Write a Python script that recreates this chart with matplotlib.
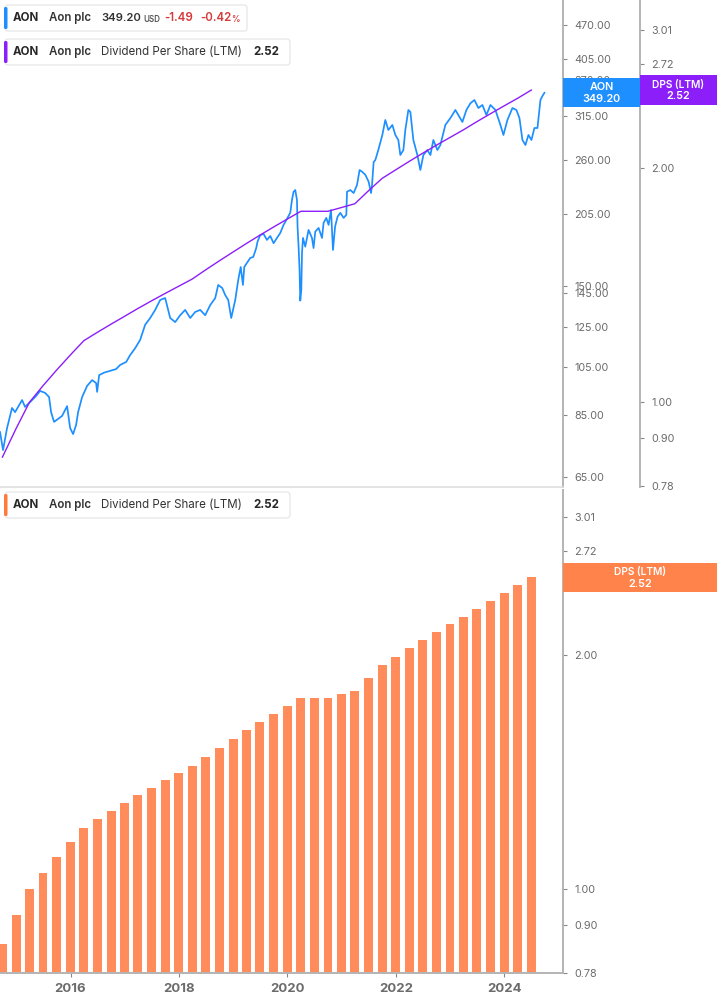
import matplotlib
matplotlib.use('Agg')
import matplotlib.pyplot as plt
import pandas as pd
from matplotlib.patches import FancyBboxPatch
from matplotlib.transforms import IdentityTransform
from matplotlib.ticker import FixedLocator, NullLocator, FixedFormatter

plt.rcParams['font.family'] = ['Inter', 'DejaVu Sans']

# ---- data ----
# daily price, sampled (decimal year, USD)
price_t = [2014.701, 2014.756, 2014.830, 2014.922, 2014.978, 2015.107, 2015.162, 2015.255,
           2015.365, 2015.439, 2015.531, 2015.605, 2015.642, 2015.697, 2015.771, 2015.845,
           2015.937, 2015.993, 2016.048, 2016.103, 2016.140, 2016.214, 2016.306, 2016.399,
           2016.472, 2016.491, 2016.528, 2016.620, 2016.731, 2016.841, 2016.915, 2017.026,
           2017.100, 2017.192, 2017.284, 2017.376, 2017.469, 2017.561, 2017.653, 2017.745,
           2017.838, 2017.930, 2018.022, 2018.114, 2018.207, 2018.299, 2018.391, 2018.483,
           2018.576, 2018.668, 2018.723, 2018.797, 2018.852, 2018.908, 2018.963, 2019.037,
           2019.092, 2019.138, 2019.179, 2019.203, 2019.253, 2019.314, 2019.369, 2019.424,
           2019.448, 2019.498, 2019.559, 2019.622, 2019.683, 2019.744, 2019.806, 2019.867,
           2019.928, 2019.991, 2020.052, 2020.083, 2020.113, 2020.144, 2020.175, 2020.186,
           2020.205, 2020.223, 2020.236, 2020.255, 2020.268, 2020.286, 2020.328, 2020.389,
           2020.452, 2020.481, 2020.513, 2020.574, 2020.637, 2020.666, 2020.716, 2020.758,
           2020.803, 2020.839, 2020.878, 2020.924, 2020.974, 2021.035, 2021.085, 2021.098,
           2021.159, 2021.220, 2021.282, 2021.330, 2021.375, 2021.436, 2021.496, 2021.541,
           2021.559, 2021.589, 2021.620, 2021.675, 2021.749, 2021.804, 2021.860, 2021.934,
           2021.989, 2022.044, 2022.081, 2022.137, 2022.173, 2022.229, 2022.266, 2022.321,
           2022.395, 2022.450, 2022.506, 2022.579, 2022.635, 2022.690, 2022.764, 2022.819,
           2022.911, 2023.004, 2023.096, 2023.151, 2023.225, 2023.299, 2023.373, 2023.447,
           2023.520, 2023.594, 2023.668, 2023.742, 2023.834, 2023.926, 2023.982, 2024.055,
           2024.148, 2024.221, 2024.277, 2024.332, 2024.387, 2024.443, 2024.498, 2024.553,
           2024.609, 2024.664, 2024.701, 2024.738]
price_v = [79.0, 73.0, 80.4, 87.8, 86.2, 90.9, 88.2, 90.1,
           92.5, 94.6, 93.8, 92.1, 86.2, 82.6, 83.7, 84.8,
           88.5, 80.4, 78.3, 81.5, 86.2, 92.1, 96.7, 99.2,
           97.9, 94.2, 101.4, 102.5, 103.3, 104.1, 106.0, 107.4,
           110.7, 114.1, 118.3, 126.4, 130.2, 134.9, 140.9, 142.1,
           130.2, 127.9, 131.8, 134.9, 130.2, 133.7, 134.9, 131.8,
           137.8, 142.1, 150.5, 148.5, 144.0, 140.9, 130.2, 140.9,
           153.8, 162.8, 150.5, 162.8, 165.7, 169.4, 170.1, 176.9,
           181.9, 187.3, 188.2, 183.3, 186.5, 180.7, 184.9, 188.9,
           195.8, 201.0, 206.6, 218.4, 226.4, 228.1, 218.4, 194.3,
           178.0, 160.7, 140.5, 147.2, 173.1, 184.9, 178.0, 191.5,
           184.9, 176.9, 190.1, 193.2, 184.9, 197.5, 201.9, 195.8,
           209.0, 175.4, 194.3, 203.0, 206.4, 201.9, 204.6, 226.4,
           228.1, 225.1, 233.2, 249.0, 247.2, 243.8, 236.6, 225.1,
           233.2, 257.8, 260.2, 271.8, 290.3, 310.0, 296.7, 303.3,
           290.3, 284.0, 265.9, 271.8, 296.7, 323.9, 321.1, 284.0,
           265.9, 249.0, 265.9, 271.8, 265.9, 284.0, 271.8, 277.8,
           303.3, 312.7, 323.9, 316.8, 307.3, 323.9, 333.6, 338.4,
           326.7, 331.1, 316.8, 331.1, 323.9, 303.3, 290.3, 310.0,
           326.7, 323.9, 312.7, 284.0, 277.8, 290.3, 284.0, 299.3,
           299.3, 338.4, 344.4, 349.2]

# dividend per share, last twelve months, quarterly (Sep 2014 .. Jun 2024)
quarters = pd.date_range('2014-09-30', periods=40, freq='QE')
dps = [0.85, 0.925, 1.00, 1.05, 1.10, 1.15, 1.20, 1.23,
       1.26, 1.29, 1.32, 1.35, 1.38, 1.41, 1.44, 1.48,
       1.52, 1.56, 1.60, 1.64, 1.68, 1.72, 1.76, 1.76,
       1.76, 1.78, 1.80, 1.87, 1.94, 1.99, 2.04, 2.09,
       2.14, 2.19, 2.24, 2.295, 2.35, 2.405, 2.46, 2.52]

price_ticks = [65, 85, 105, 125, 145, 150, 205, 260, 315, 370, 405, 470]
dps_ticks = [0.78, 0.90, 1.00, 2.00, 2.72, 3.01]
year_ticks = [2016, 2018, 2020, 2022, 2024]

BLUE = '#1e8fff'
PURPLE = '#8c1efa'
ORANGE = '#ff8c5a'
ORANGE_LBL = '#ff834a'
RED = '#d63a3a'
GRID = '#b4b4b4'
TXT = '#6b6b6b'

q_t = [d.year + (d.dayofyear - 1) / 365.25 for d in quarters]

W, H = 717, 1005
fig = plt.figure(figsize=(W / 100, H / 100), dpi=100)
ax = fig.add_axes([0, 1 - 487 / H, 563 / W, 487 / H])
ax2 = ax.twinx()
axb = fig.add_axes([0, 1 - 973 / H, 563 / W, (973 - 490) / H])

XMIN, XMAX = 2014.70, 2025.08

# price panel
ax.plot(price_t, price_v, color=BLUE, lw=1.25, zorder=3)
ax.set_yscale('log')
ax.set_ylim(62.1, 524.4)
ax.set_xlim(XMIN, XMAX)
ax.set_xticks([])
ax.yaxis.tick_right()
ax.yaxis.set_major_locator(FixedLocator(price_ticks))
ax.yaxis.set_major_formatter(FixedFormatter(['%.2f' % v for v in price_ticks]))
ax.yaxis.set_minor_locator(NullLocator())
for s in ['top', 'left']:
    ax.spines[s].set_visible(False)
ax.spines['right'].set_color(GRID)
ax.spines['right'].set_linewidth(1.4)
ax.spines['bottom'].set_color('#dedede')
ax.spines['bottom'].set_linewidth(1.2)

ax2.plot(q_t, dps, color=PURPLE, lw=1.0, zorder=4)
ax2.set_yscale('log')
ax2.set_ylim(0.778, 3.29)
ax2.set_xlim(XMIN, XMAX)
ax2.yaxis.set_major_locator(FixedLocator(dps_ticks))
ax2.yaxis.set_major_formatter(FixedFormatter(['%.2f' % v for v in dps_ticks]))
ax2.yaxis.set_minor_locator(NullLocator())
for s in ['top', 'left', 'bottom']:
    ax2.spines[s].set_visible(False)
ax2.spines['right'].set_position(('axes', 640 / 563))
ax2.spines['right'].set_color(GRID)
ax2.spines['right'].set_linewidth(1.4)

for a in (ax, ax2):
    a.tick_params(axis='y', length=3, width=0.8, color='#888888', labelsize=7.8,
                  labelcolor=TXT, pad=5)

# dividend bar panel
axb.bar(q_t, dps, width=0.165, color=ORANGE, zorder=2)
axb.set_yscale('log')
axb.set_ylim(0.78, 3.26)
axb.set_xlim(XMIN, XMAX)
axb.yaxis.tick_right()
axb.yaxis.set_major_locator(FixedLocator(dps_ticks))
axb.yaxis.set_major_formatter(FixedFormatter(['%.2f' % v for v in dps_ticks]))
axb.yaxis.set_minor_locator(NullLocator())
axb.set_xticks(year_ticks)
axb.set_xticklabels([str(y) for y in year_ticks], fontweight='bold')
axb.tick_params(axis='y', length=3, width=0.8, color='#888888', labelsize=7.8,
                labelcolor=TXT, pad=5)
axb.tick_params(axis='x', length=3, width=0.8, color='#888888', labelsize=9.5,
                labelcolor=TXT, pad=4)
for s in ['top', 'left']:
    axb.spines[s].set_visible(False)
for s in ['right', 'bottom']:
    axb.spines[s].set_color(GRID)
    axb.spines[s].set_linewidth(1.4)

# ---- labels drawn in pixel space ----
ID = IdentityTransform()


def txt(x, y, s, **kw):
    kw.setdefault('va', 'center')
    kw.setdefault('fontsize', 8.3)
    kw.setdefault('zorder', 10)
    fig.text(x, H - y, s, transform=ID, **kw)


def box(x0, y0, x1, y1, fc, ec='none', r=0.0, lw=0.8, z=5):
    p = FancyBboxPatch((x0, H - y1), x1 - x0, y1 - y0,
                       boxstyle='round,pad=0,rounding_size=%g' % r,
                       fc=fc, ec=ec, lw=lw, transform=ID, zorder=z)
    fig.add_artist(p)


def legend_row(y0, color, right, extra):
    box(5, y0, right, y0 + 26, 'white', '#e4e4e4', r=3)
    box(4, y0 + 2, 7.5, y0 + 24, color, r=1.5, z=6)
    yc = y0 + 13
    txt(13, yc, 'AON', fontweight='bold', color='#262626')
    txt(49, yc, 'Aon plc', fontweight='semibold', color='#333333')
    extra(yc)


def row1(yc):
    txt(101, yc, '349.20', fontweight='semibold', color='#333333', fontsize=8.1)
    txt(143, yc + 1, 'USD', fontsize=5.8, fontweight='semibold', color='#555555')
    txt(164, yc, '-1.49', fontweight='semibold', color=RED)
    txt(200, yc, '-0.42', fontweight='semibold', color=RED)
    txt(231, yc + 1, '%', fontsize=6.0, fontweight='semibold', color=RED)


def row_dps(yc):
    txt(101, yc, 'Dividend Per Share (LTM)', color='#333333')
    txt(253, yc, '2.52', fontweight='bold', color='#262626')


legend_row(5, BLUE, 247, row1)
legend_row(39, PURPLE, 290, row_dps)
legend_row(492, '#ff7a3c', 290, row_dps)

# value tags on the axes
box(563, 78, 640, 107, BLUE, z=7)
txt(601.5, 87, 'AON', ha='center', color='white', fontsize=7.8, fontweight='semibold')
txt(601.5, 98.5, '349.20', ha='center', color='white', fontsize=7.8, fontweight='semibold')
box(640, 75, 717, 105, PURPLE, z=7)
txt(678, 84.5, 'DPS (LTM)', ha='center', color='white', fontsize=7.3, fontweight='semibold')
txt(678, 96, '2.52', ha='center', color='white', fontsize=7.8, fontweight='semibold')
box(563, 563, 717, 592, ORANGE_LBL, z=7)
txt(640, 572, 'DPS (LTM)', ha='center', color='white', fontsize=7.3, fontweight='semibold')
txt(640, 583.5, '2.52', ha='center', color='white', fontsize=7.8, fontweight='semibold')

fig.savefig('out.png', dpi=100)
